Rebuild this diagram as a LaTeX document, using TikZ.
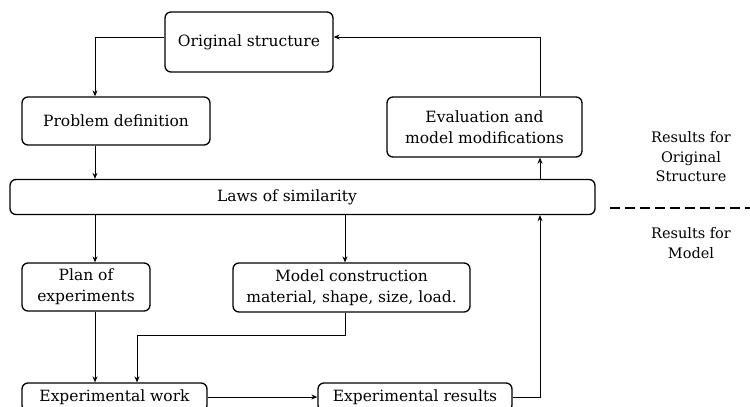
\documentclass[tikz,border=0pt]{standalone}
\usepackage{fontspec}
\setmainfont{DejaVu Serif}
\usetikzlibrary{arrows.meta}
\begin{document}
\begin{tikzpicture}[x=1pt,y=-1pt,
  box/.style={draw, rounded corners=6pt, line width=1.3pt, inner sep=0pt, align=center, font=\fontsize{15.5}{21}\selectfont},
  arr/.style={line width=1pt, -{Stealth[length=6pt,width=5pt]}},
  side/.style={align=center, font=\fontsize{14.5}{19.5}\selectfont}]
\useasboundingbox (0,0) rectangle (750,407);
\clip (0,0) rectangle (750,407);
% columns
\coordinate (cL) at (95,0);
\coordinate (cM) at (345,0);
\coordinate (cR) at (540,0);
\coordinate (cW) at (137,0);
\coordinate (topline) at (0,37);
\coordinate (midline) at (0,335);
% boxes
\node[box, minimum width=168, minimum height=60] (orig) at (249,42) {Original structure};
\node[box, minimum width=188, minimum height=48] (prob) at (116,121) {Problem definition};
\node[box, minimum width=195, minimum height=60] (eval) at (484.5,127) {Evaluation and\\model modifications};
\node[box, minimum width=585, minimum height=35] (laws) at (302.5,197) {};
\node[font=\fontsize{15.5}{21}\selectfont] (lawst) at (287,197) {Laws of similarity};
\node[box, minimum width=128, minimum height=48] (plan) at (86,287) {Plan of\\experiments};
\node[box, minimum width=237, minimum height=49] (model) at (351.5,287.5) {Model construction\\material, shape, size, load.};
\node[box, minimum width=185, minimum height=28] (work) at (114.5,397) {Experimental work};
\node[box, minimum width=194, minimum height=28] (res) at (415,397) {Experimental results};
% side labels
\node[side] (r1) at (691,157) {Results for\\Original\\Structure};
\node[side] (r2) at (691,243) {Results for\\Model};
\coordinate (d0) at (610,208);
\coordinate (d1) at (750,208);
\draw[line width=1.1pt, dash pattern=on 10pt off 5pt] (d0) -- (d1);
% connectors
\draw[arr] (orig.west |- topline) -| (prob.north -| cL);
\draw[arr] (prob.south -| cL) -- (laws.north -| cL);
\draw[arr] (laws.north -| cR) -- (eval.south -| cR);
\draw[arr] (eval.north -| cR) |- (orig.east |- topline);
\draw[arr] (laws.south -| cL) -- (plan.north -| cL);
\draw[arr] (laws.south -| cM) -- (model.north -| cM);
\draw[arr] (plan.south -| cL) -- (work.north -| cL);
\draw[arr] (model.south -| cM) |- (midline -| cW) -- (work.north -| cW);
\draw[arr] (work.east) -- (res.west);
\draw[arr] (res.east) -| (laws.south -| cR);
\end{tikzpicture}
\end{document}
